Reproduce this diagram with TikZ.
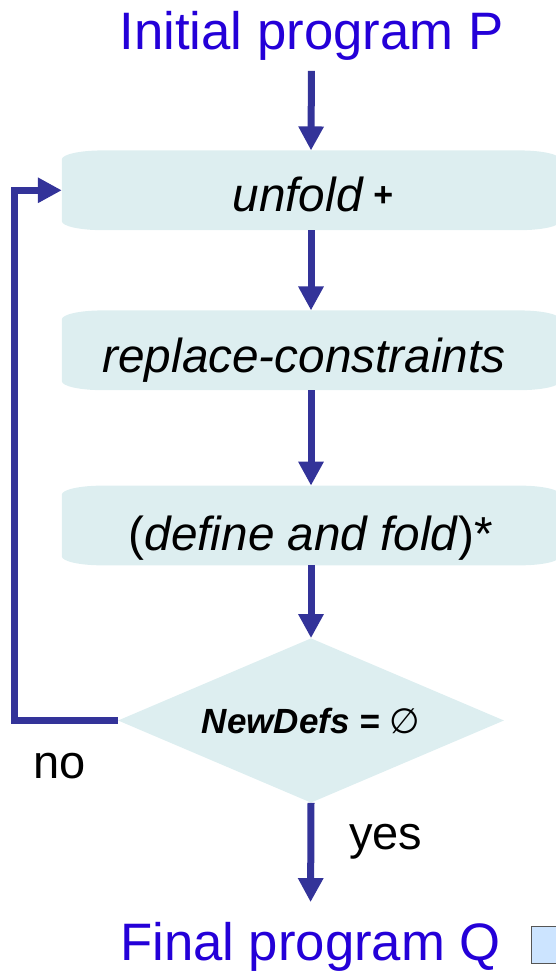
\documentclass[tikz,border=0pt]{standalone}
\usepackage{fontspec}
\setmainfont{Liberation Sans}
\newfontfamily\symfont{DejaVu Sans}
\usetikzlibrary{arrows.meta,shapes.geometric,calc,backgrounds}
\definecolor{arrowc}{RGB}{51,51,153}
\definecolor{boxfill}{RGB}{221,238,240}
\definecolor{titleblue}{RGB}{36,0,216}
\definecolor{sqfill}{RGB}{204,228,255}
\definecolor{sqdraw}{RGB}{85,85,85}
\newcommand{\eboxfill}[1]{%
  \fill[boxfill] ($(#1.north west)+(40,0)$) -- ($(#1.north east)+(-40,0)$)
    arc[start angle=90,end angle=0,x radius=40pt,y radius=9pt]
    -- ($(#1.south east)+(0,9)$)
    arc[start angle=0,end angle=-90,x radius=40pt,y radius=9pt]
    -- ($(#1.south west)+(40,0)$)
    arc[start angle=270,end angle=180,x radius=40pt,y radius=9pt]
    -- ($(#1.north west)+(0,-9)$)
    arc[start angle=180,end angle=90,x radius=40pt,y radius=9pt] -- cycle;}
\begin{document}
\begin{tikzpicture}[x=1pt,y=1pt,
  flowarrow/.style={draw=arrowc,line width=7pt,-{Triangle[width=24pt,length=24pt]}},
  stepbox/.style={rectangle,inner sep=0pt,minimum width=498pt,minimum height=79.3pt,
    text depth=0pt,font=\fontsize{47.7}{50}\selectfont},
  titletext/.style={inner sep=0pt,anchor=base,text=titleblue,font=\fontsize{52.7}{55}\selectfont},
  plaintext/.style={inner sep=0pt,anchor=base west,font=\fontsize{47}{50}\selectfont},
  decision/.style={diamond,fill=boxfill,inner sep=0pt,minimum width=386pt,minimum height=164.4pt,
    aspect=2.35,font=\bfseries\itshape\fontsize{35}{37}\selectfont}]
\useasboundingbox (0,0) rectangle (555,972);

\node[titletext] (init) at (311.5,922.7) {Initial program P};
\node[titletext] (fin) at (310.5,12) {Final program Q};

\node[stepbox,text height=42.8pt] (b1) at (311,781.7)
  {\hspace*{4pt}\textit{unfold}\hspace{0.2em}\raisebox{5pt}{\bfseries\fontsize{34}{34}\selectfont +}};
\node[stepbox,text height=44pt] (b2) at (311,621.7)
  {\textit{replace-constraints}\hspace*{14pt}};
\node[stepbox,text height=50pt] (b3) at (311,446.5)
  {(\textit{define and fold})*};

\node[decision] (d) at (311,251.5) {NewDefs = {\symfont\mdseries\upshape ∅}};

\begin{scope}[on background layer]
  \eboxfill{b1}
  \eboxfill{b2}
  \eboxfill{b3}
\end{scope}

\coordinate (fb) at (14.5,251.5);

\draw[flowarrow,shorten <=10.4pt] (init.south) -- (b1.north);
\draw[flowarrow] (b1.south) -- (b2.north);
\draw[flowarrow] (b2.south) -- (b3.north);
\draw[flowarrow] (b3.south) -- (d.north);
\draw[flowarrow,shorten >=19.5pt] (d.south) -- (fin.north);
\draw[flowarrow] (d.west) -- (fb) |- (b1.west);

\node[plaintext] (no) at (33,193) {no};
\node[plaintext] (yes) at (349,122) {yes};

\node[draw=sqdraw,fill=sqfill,line width=1.2pt,inner sep=0pt,
  minimum width=36pt,minimum height=36.6pt] (sq) at (549.6,27) {};
\end{tikzpicture}
\end{document}
